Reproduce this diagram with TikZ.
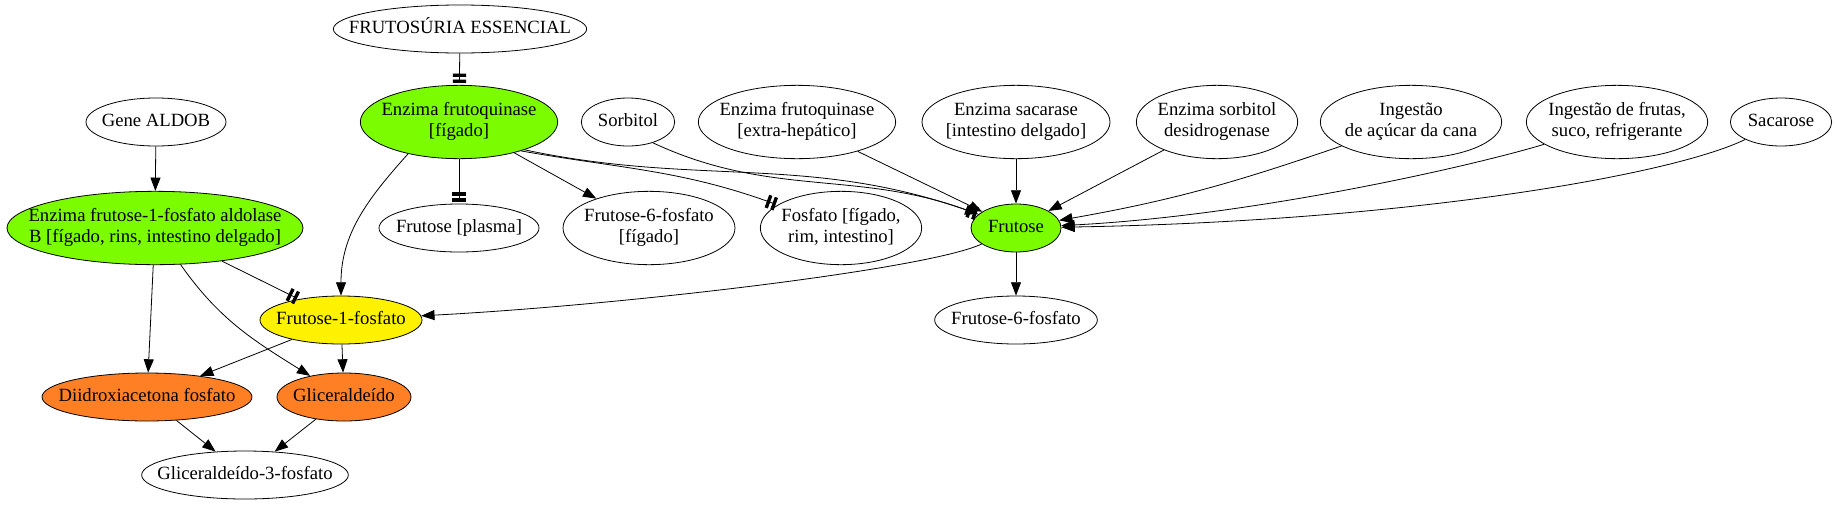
\documentclass[tikz,border=0pt]{standalone}
\usepackage{fontspec}
\setmainfont{Liberation Serif}
\usetikzlibrary{shapes.geometric,arrows.meta}
\definecolor{lawn}{RGB}{124,252,0}
\definecolor{choc}{RGB}{255,127,36}
\newcommand{\elab}[1]{\makebox[0pt]{\begin{tabular}{@{}c@{}}#1\end{tabular}}}
\tikzset{
  ell/.style={ellipse, draw, line width=0.6pt, inner sep=0pt, minimum height=36pt,
    font=\fontsize{14}{16}\selectfont},
  two/.style={minimum height=55pt},
  arr/.style={line width=0.6pt, -{Triangle[length=10pt,width=7.5pt]}},
  tt/.style={line width=0.6pt, shorten >=1.5pt,
    -{Rectangle[length=2.5pt,width=10pt,sep=2pt]Rectangle[length=2.5pt,width=10pt]}}
}
\begin{document}
\begin{tikzpicture}[x=0.75pt,y=-0.75pt]
   \useasboundingbox (0,0) rectangle (1837,504);
   \node (FE)  [ell, minimum width=190pt]                  at (460,29)   {\elab{FRUTOSÚRIA ESSENCIAL}};
   \node (GA)  [ell, minimum width=105pt]                  at (156,122)  {\elab{Gene ALDOB}};
   \node (FQ)  [ell, two, fill=lawn, minimum width=148pt]  at (459,122)  {\elab{Enzima frutoquinase\\{}[fígado]}};
   \node (SO)  [ell, minimum width=70pt]                   at (628,122)  {\elab{Sorbitol}};
   \node (FX)  [ell, two, minimum width=148pt]             at (797,122)  {\elab{Enzima frutoquinase\\{}[extra-hepático]}};
   \node (SA)  [ell, two, minimum width=141pt]             at (1016,122) {\elab{Enzima sacarase\\{}[intestino delgado]}};
   \node (SD)  [ell, two, minimum width=121pt]             at (1217,122) {\elab{Enzima sorbitol\\desidrogenase}};
   \node (IA)  [ell, two, minimum width=136pt]             at (1411,122) {\elab{Ingestão\\de açúcar da cana}};
   \node (IFR) [ell, two, minimum width=136pt]             at (1617,122) {\elab{Ingestão de frutas,\\suco, refrigerante}};
   \node (SC)  [ell, minimum width=76pt]                   at (1781,122) {\elab{Sacarose}};
   \node (AL)  [ell, two, fill=lawn, minimum width=222pt]  at (155,228)  {\elab{Enzima frutose-1-fosfato aldolase\\B [fígado, rins, intestino delgado]}};
   \node (FP)  [ell, minimum width=120pt]                  at (459,228)  {\elab{Frutose [plasma]}};
   \node (F6F) [ell, two, minimum width=129pt]             at (649,228)  {\elab{Frutose-6-fosfato\\{}[fígado]}};
   \node (FO)  [ell, two, minimum width=121pt]             at (841,228)  {\elab{Fosfato [fígado,\\rim, intestino]}};
   \node (FR)  [ell, fill=lawn, minimum width=67.5pt]      at (1016,228) {\elab{Frutose}};
   \node (F6)  [ell, minimum width=122pt]                  at (1016,320) {\elab{Frutose-6-fosfato}};
   \node (F1)  [ell, fill=yellow, minimum width=121.5pt]   at (341,320)  {\elab{Frutose-1-fosfato}};
   \node (DI)  [ell, fill=choc, minimum width=157.5pt]     at (147,397)  {\elab{Diidroxiacetona fosfato}};
   \node (GL)  [ell, fill=choc, minimum width=100.5pt]     at (344,397)  {\elab{Gliceraldeído}};
   \node (G3)  [ell, minimum width=155pt]                  at (245,475)  {\elab{Gliceraldeído-3-fosfato}};

   \path[tt]
     (FE)     edge (FQ)
     (FQ)     edge (FP)
     (FQ.-25) edge [out=-10, in=160] (FO)
     (FQ.-23) edge [out=-12, in=160] (FR)
     (AL)     edge (F1);

   \path[arr]
     (GA)     edge (AL)
     (FQ)     edge (F6F)
     (FQ.212) edge [out=228, in=90] (F1)
     (AL)     edge (DI)
     (AL)     edge [out=-55, in=148] (GL)
     (F1)     edge (DI)
     (F1)     edge (GL)
     (DI)     edge (G3)
     (GL)     edge (G3)
     (FR)     edge [out=205, in=3, out distance=45pt, in distance=150pt] (F1)
     (FR)     edge (F6)
     (SO.-40) edge [out=-25, in=160] (FR)
     (FX)     edge (FR)
     (SA)     edge (FR)
     (SD)     edge (FR)
     (IA)     edge [out=199, in=10] (FR)
     (IFR)    edge [out=197, in=3, out distance=50pt, in distance=150pt] (FR)
     (SC)     edge [out=206, in=1, out distance=60pt, in distance=262pt] (FR);
\end{tikzpicture}
\end{document}
